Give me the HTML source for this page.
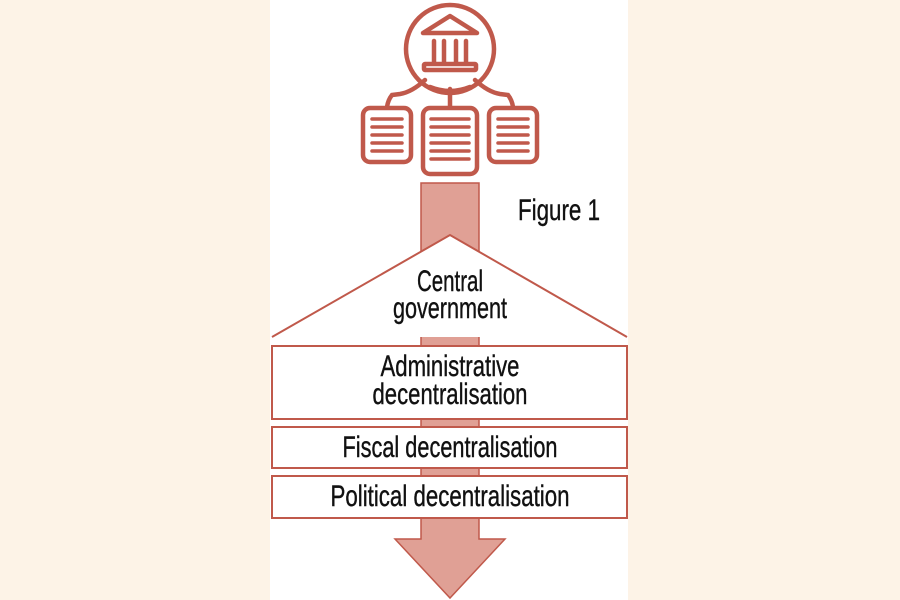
<!DOCTYPE html>
<html><head><style>
body{margin:0;background:#fdf3e7;}
svg{display:block}
text{font-family:"Liberation Sans Narrow","Liberation Sans",sans-serif;fill:#111;stroke:#111;stroke-width:0.4;font-size:30px;text-anchor:middle}
</style></head><body>
<svg width="900" height="600" viewBox="0 0 900 600">
<rect x="0" y="0" width="900" height="600" fill="#fdf3e7"/>
<rect x="270" y="0" width="358" height="600" fill="#fff"/>
<g stroke="#c0594b" fill="none" stroke-width="4.5" stroke-linecap="round">
 <circle cx="450" cy="49" r="44"/>
 <path d="M423 33 L450 16 L477 33 Z" stroke-linejoin="round"/>
 <line x1="434" y1="41" x2="434" y2="62"/><line x1="444" y1="41" x2="444" y2="62"/>
 <line x1="456" y1="41" x2="456" y2="62"/><line x1="466" y1="41" x2="466" y2="62"/>
 <rect x="424" y="64" width="52" height="6" rx="1"/>
 <path d="M430 87 Q450 95 470 87"/>
 <line x1="450" y1="89" x2="450" y2="107"/>
 <path d="M425 80 Q412 92 400 94 L392 95 Q388 100 387 107"/>
 <path d="M475 80 Q488 92 500 94 L508 95 Q512 100 513 107"/>
 <rect x="363" y="108" width="48" height="54" rx="7"/>
 <rect x="423" y="108" width="54" height="66" rx="7"/>
 <rect x="489" y="108" width="48" height="54" rx="7"/>
 <g stroke-width="3.5">
 <line x1="372" y1="119" x2="402" y2="119"/><line x1="372" y1="127" x2="402" y2="127"/><line x1="372" y1="135" x2="402" y2="135"/><line x1="372" y1="143" x2="402" y2="143"/><line x1="372" y1="151" x2="402" y2="151"/>
 <line x1="431" y1="119" x2="469" y2="119"/><line x1="431" y1="127" x2="469" y2="127"/><line x1="431" y1="135" x2="469" y2="135"/><line x1="431" y1="143" x2="469" y2="143"/><line x1="431" y1="151" x2="469" y2="151"/><line x1="431" y1="159" x2="469" y2="159"/>
 <line x1="498" y1="119" x2="528" y2="119"/><line x1="498" y1="127" x2="528" y2="127"/><line x1="498" y1="135" x2="528" y2="135"/><line x1="498" y1="143" x2="528" y2="143"/><line x1="498" y1="151" x2="528" y2="151"/>
 </g>
</g>
<path d="M421 183 H479 V539 H505 L450 598 L395 539 H421 Z" fill="#e0a095" stroke="#c0594b" stroke-width="1.5"/>
<text x="559" y="220" textLength="82" lengthAdjust="spacingAndGlyphs">Figure 1</text>
<g fill="#fff" stroke="#c0594b" stroke-width="2">
 <path d="M272 337 L450 235 L627 337"/>
 <rect x="272" y="346" width="355" height="73"/>
 <rect x="272" y="427" width="355" height="41"/>
 <rect x="272" y="476" width="355" height="42"/>
</g>
<text x="450" y="291" textLength="66" lengthAdjust="spacingAndGlyphs">Central</text>
<text x="450" y="318" textLength="114" lengthAdjust="spacingAndGlyphs">government</text>
<text x="450" y="376" textLength="139" lengthAdjust="spacingAndGlyphs">Administrative</text>
<text x="450" y="404" textLength="155" lengthAdjust="spacingAndGlyphs">decentralisation</text>
<text x="450" y="457" textLength="215" lengthAdjust="spacingAndGlyphs">Fiscal decentralisation</text>
<text x="450" y="506" textLength="239" lengthAdjust="spacingAndGlyphs">Political decentralisation</text>
</svg>
</body></html>
